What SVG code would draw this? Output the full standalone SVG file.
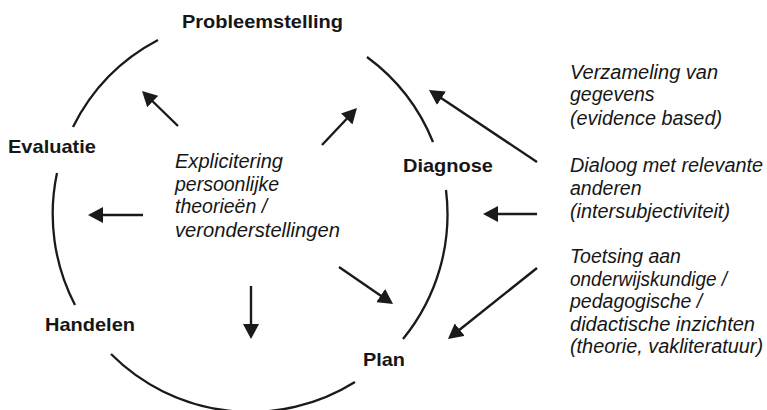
<svg xmlns="http://www.w3.org/2000/svg" width="767" height="410" viewBox="0 0 767 410">
<style>
.bg{fill:#ffffff}
.arc{fill:none;stroke:#1a1a1a;stroke-width:2.3}
.ar{stroke:#1a1a1a;stroke-width:2.4;fill:none;marker-end:url(#ah)}
.b{font-family:"Liberation Sans",Arial,sans-serif;font-weight:bold;font-size:19px;fill:#161616}
.i{font-family:"Liberation Sans",Arial,sans-serif;font-style:italic;font-size:19.5px;fill:#161616}
</style>
<defs>
<marker id="ah" markerUnits="userSpaceOnUse" markerWidth="16" markerHeight="16" refX="5" refY="8" orient="auto">
<path d="M0,0 L15,8 L0,16 z" fill="#1a1a1a"/>
</marker>
</defs>
<rect class="bg" x="0" y="0" width="767" height="410"/>
<g id="cycle">
<path class="arc" d="M73,127 A197,197 0 0 1 158,40"/>
<path class="arc" d="M367,57 A197,197 0 0 1 433,142"/>
<path class="arc" d="M446,190 A197,197 0 0 1 403,339"/>
<path class="arc" d="M355,382 A197,197 0 0 1 111,354"/>
<path class="arc" d="M75,305 A197,197 0 0 1 57,173"/>
</g>
<g id="connectors">
<line class="ar" x1="178" y1="126" x2="149.2" y2="98"/>
<line class="ar" x1="322" y1="145" x2="350.1" y2="115.3"/>
<line class="ar" x1="143" y1="215" x2="98" y2="215"/>
<line class="ar" x1="251" y1="286" x2="251" y2="329"/>
<line class="ar" x1="339" y1="267" x2="384.8" y2="298.4"/>
<line class="ar" x1="537" y1="162" x2="437.3" y2="95.5"/>
<line class="ar" x1="537" y1="214" x2="493" y2="214"/>
<line class="ar" x1="537" y1="268" x2="455.8" y2="332.8"/>
</g>
<g id="probleemstelling"><text class="b" x="182" y="28" textLength="161" lengthAdjust="spacingAndGlyphs">Probleemstelling</text></g>
<g id="evaluatie"><text class="b" x="8" y="153" textLength="88" lengthAdjust="spacingAndGlyphs">Evaluatie</text></g>
<g id="handelen"><text class="b" x="45" y="331" textLength="90" lengthAdjust="spacingAndGlyphs">Handelen</text></g>
<g id="diagnose"><text class="b" x="403" y="172" textLength="90" lengthAdjust="spacingAndGlyphs">Diagnose</text></g>
<g id="plan"><text class="b" x="363" y="366" textLength="42" lengthAdjust="spacingAndGlyphs">Plan</text></g>
<g id="explicitering">
<text class="i" x="175" y="168" textLength="108" lengthAdjust="spacingAndGlyphs">Explicitering</text>
<text class="i" x="175" y="191">persoonlijke</text>
<text class="i" x="175" y="213">theorieën /</text>
<text class="i" x="175" y="237" textLength="165" lengthAdjust="spacingAndGlyphs">veronderstellingen</text>
</g>
<g id="verzameling">
<text class="i" x="570" y="79" textLength="148" lengthAdjust="spacingAndGlyphs">Verzameling van</text>
<text class="i" x="570" y="101">gegevens</text>
<text class="i" x="570" y="125" textLength="152" lengthAdjust="spacingAndGlyphs">(evidence based)</text>
</g>
<g id="dialoog">
<text class="i" x="570" y="172" textLength="193" lengthAdjust="spacingAndGlyphs">Dialoog met relevante</text>
<text class="i" x="570" y="195">anderen</text>
<text class="i" x="570" y="218" textLength="160" lengthAdjust="spacingAndGlyphs">(intersubjectiviteit)</text>
</g>
<g id="toetsing">
<text class="i" x="570" y="263">Toetsing aan</text>
<text class="i" x="570" y="286" textLength="157" lengthAdjust="spacingAndGlyphs">onderwijskundige /</text>
<text class="i" x="570" y="308">pedagogische /</text>
<text class="i" x="570" y="331" textLength="185" lengthAdjust="spacingAndGlyphs">didactische inzichten</text>
<text class="i" x="570" y="353" textLength="193" lengthAdjust="spacingAndGlyphs">(theorie, vakliteratuur)</text>
</g>
</svg>
